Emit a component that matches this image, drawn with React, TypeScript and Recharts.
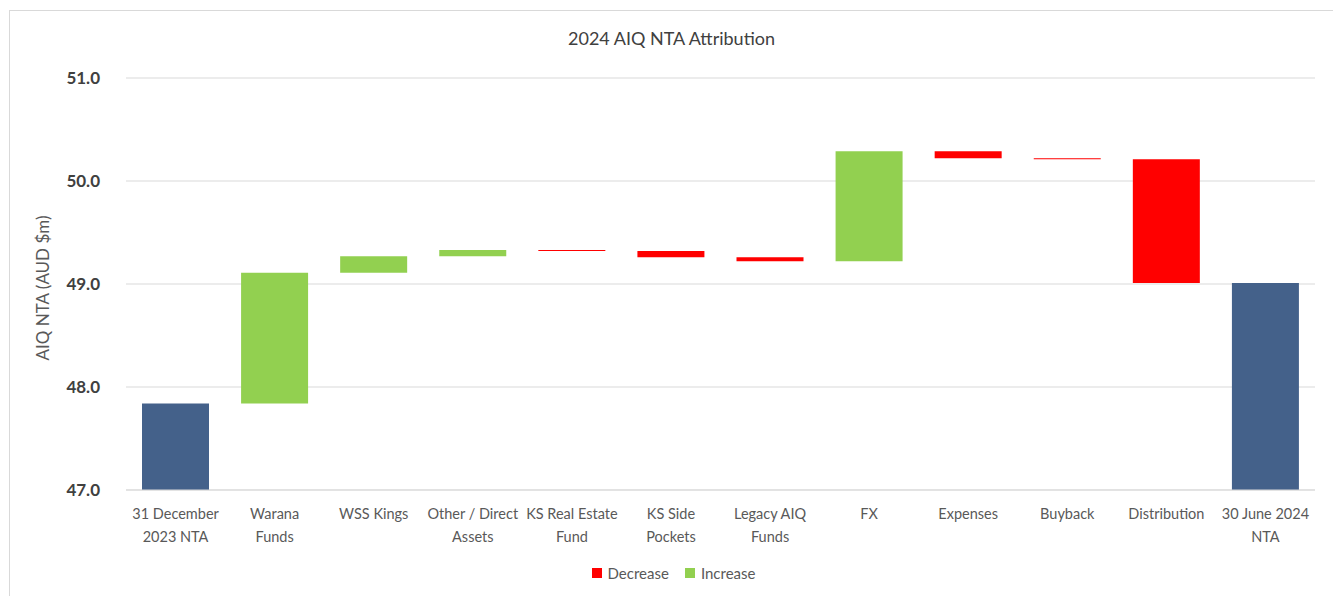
import React from 'react'
import { BarChart, Bar, XAxis, YAxis, CartesianGrid, Cell } from 'recharts'

// waterfall steps, AUD $m
const categories = [
  '31 December\n2023 NTA',
  'Warana\nFunds',
  'WSS Kings',
  'Other / Direct\nAssets',
  'KS Real Estate\nFund',
  'KS Side\nPockets',
  'Legacy AIQ\nFunds',
  'FX',
  'Expenses',
  'Buyback',
  'Distribution',
  '30 June 2024\nNTA',
]
const startNta = 47.84
const movements = [1.27, 0.16, 0.06, -0.01, -0.06, -0.04, 1.07, -0.07, -0.01, -1.2]
const yTicks = [47, 48, 49, 50, 51]

const NAVY = '#44618a'
const GREEN = '#92d050'
const RED = '#ff0000'
const FONT = 'Lato, "Open Sans", sans-serif'

const rows: { name: string; range: [number, number]; kind: string }[] = []
let running = startNta
rows.push({ name: categories[0], range: [0, startNta], kind: 'total' })
movements.forEach((m, i) => {
  const next = Math.round((running + m) * 100) / 100
  rows.push({
    name: categories[i + 1],
    range: [Math.min(running, next), Math.max(running, next)],
    kind: m < 0 ? 'decrease' : 'increase',
  })
  running = next
})
rows.push({ name: categories[categories.length - 1], range: [0, running], kind: 'total' })

const colorFor = (kind: string) => (kind === 'total' ? NAVY : kind === 'decrease' ? RED : GREEN)

const WrapTick = (props: any) => {
  const { x, y, payload } = props
  const lines = String(payload.value).split('\n')
  return (
    <g transform={`translate(${x},${y})`}>
      <text textAnchor="middle" fill="#595959" fontSize={14.5} fontFamily={FONT}>
        {lines.map((l, i) => (
          <tspan key={i} x={0} dy={i === 0 ? 29 : 23}>
            {l}
          </tspan>
        ))}
      </text>
    </g>
  )
}

export default function App() {
  return (
    <div
      style={{
        position: 'absolute',
        left: 9,
        top: 10,
        width: 1324,
        height: 586,
        borderLeft: '1px solid #d9d9d9',
        borderTop: '1px solid #d9d9d9',
        background: '#fff',
        fontFamily: FONT,
      }}
    >
      <div
        style={{
          position: 'absolute',
          top: 16,
          left: 0,
          width: 1323,
          textAlign: 'center',
          fontSize: 18,
          color: '#404040',
        }}
      >
        2024 AIQ NTA Attribution
      </div>
      <BarChart
        width={1323}
        height={585}
        data={rows}
        margin={{ top: 67, right: 18, bottom: 0, left: 0 }}
      >
        <CartesianGrid vertical={false} stroke="#d9d9d9" />
        <XAxis
          dataKey="name"
          interval={0}
          height={106}
          tickLine={false}
          tickSize={0}
          tickMargin={0}
          axisLine={{ stroke: '#d9d9d9' }}
          tick={<WrapTick />}
        />
        <YAxis
          width={116}
          domain={[47, 51]}
          ticks={yTicks}
          allowDataOverflow
          axisLine={false}
          tickLine={false}
          tickSize={0}
          tickMargin={26}
          tickFormatter={(v: number) => v.toFixed(1)}
          tick={{ fill: '#404040', fontSize: 17, fontWeight: 700, fontFamily: FONT }}
          label={({ viewBox }: any) => {
            const cy = viewBox.y + viewBox.height / 2 + 4
            return (
              <text
                x={32}
                y={cy}
                transform={`rotate(-90, 32, ${cy})`}
                textAnchor="middle"
                dominantBaseline="central"
                fill="#595959"
                fontSize={17}
                fontFamily={FONT}
              >
                AIQ NTA (AUD $m)
              </text>
            )
          }}
        />
        <Bar dataKey="range" barSize={67} isAnimationActive={false}>
          {rows.map((r, i) => (
            <Cell key={i} fill={colorFor(r.kind)} />
          ))}
        </Bar>
      </BarChart>
      <div
        style={{
          position: 'absolute',
          top: 553,
          left: 0,
          width: 1323,
          display: 'flex',
          justifyContent: 'center',
          alignItems: 'center',
          gap: 8,
          fontSize: 15,
          color: '#595959',
          paddingLeft: 4,
          boxSizing: 'border-box',
        }}
      >
        <span style={{ display: 'inline-block', width: 10, height: 10, background: RED }} />
        <span style={{ marginLeft: -2 }}>Decrease</span>
        <span style={{ display: 'inline-block', width: 10, height: 10, background: GREEN, marginLeft: 8 }} />
        <span style={{ marginLeft: -2 }}>Increase</span>
      </div>
    </div>
  )
}
